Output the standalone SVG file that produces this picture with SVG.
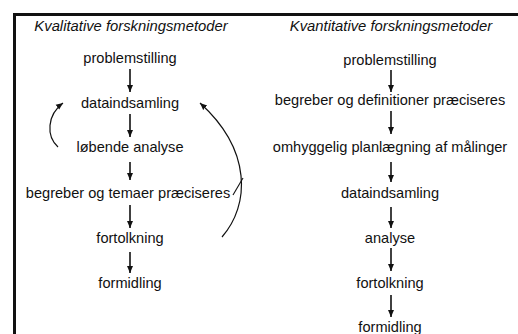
<svg xmlns="http://www.w3.org/2000/svg" width="518" height="334" viewBox="0 0 518 334">
  <style>
    .lbl { font-family: "Liberation Sans", Arial, sans-serif; font-size: 14.6px; fill: #111; text-anchor: middle; }
    .ttl { font-family: "Liberation Sans", Arial, sans-serif; font-size: 14.8px; font-style: italic; fill: #111; text-anchor: middle; }
    .flow { stroke: #111; stroke-width: 1.6; fill: none; marker-end: url(#head); }
    .loop { stroke: #111; stroke-width: 1.2; fill: none; marker-end: url(#head); }
    .frame { stroke: #111; stroke-width: 3; fill: none; }
  </style>
  <defs>
    <marker id="head" markerWidth="8" markerHeight="8" refX="7" refY="4" orient="auto" markerUnits="userSpaceOnUse">
      <path d="M0,1 L7,4 L0,7 Z" fill="#111"/>
    </marker>
  </defs>
  <rect width="518" height="334" fill="#fff"/>

  <!-- frame: top and left rule -->
  <path class="frame" d="M14.5,334 V14.5 H518"/>

  <!-- qualitative column -->
  <text class="ttl" x="131" y="31">Kvalitative forskningsmetoder</text>
  <g id="kval-problemstilling"><text class="lbl" x="130" y="63">problemstilling</text></g>
  <g id="kval-dataindsamling"><text class="lbl" x="130" y="108">dataindsamling</text></g>
  <g id="kval-loebende"><text class="lbl" x="130" y="152">løbende analyse</text></g>
  <g id="kval-begreber"><text class="lbl" x="128" y="198">begreber og temaer præciseres</text></g>
  <g id="kval-fortolkning"><text class="lbl" x="130" y="243">fortolkning</text></g>
  <g id="kval-formidling"><text class="lbl" x="130" y="288">formidling</text></g>

  <!-- quantitative column -->
  <text class="ttl" x="391" y="31">Kvantitative forskningsmetoder</text>
  <g id="kvan-problemstilling"><text class="lbl" x="390" y="65">problemstilling</text></g>
  <g id="kvan-begreber"><text class="lbl" x="390" y="105">begreber og definitioner præciseres</text></g>
  <g id="kvan-planlaegning"><text class="lbl" x="390" y="152">omhyggelig planlægning af målinger</text></g>
  <g id="kvan-dataindsamling"><text class="lbl" x="390" y="198">dataindsamling</text></g>
  <g id="kvan-analyse"><text class="lbl" x="390" y="243">analyse</text></g>
  <g id="kvan-fortolkning"><text class="lbl" x="390" y="288">fortolkning</text></g>
  <g id="kvan-formidling"><text class="lbl" x="390" y="332">formidling</text></g>

  <g id="connectors">
    <!-- qualitative flow -->
    <path class="flow" d="M130,69 V92"/>
    <path class="flow" d="M130,114 V137"/>
    <path class="flow" d="M130,162 V180"/>
    <path class="flow" d="M130,205 V228"/>
    <path class="flow" d="M130,252 V273"/>
    <!-- feedback loops -->
    <path class="loop" d="M58,147 C46,136 47,115 63,103"/>
    <path class="loop" d="M222,237 C250,205 252,150 200,103"/>
    <path stroke="#111" stroke-width="1.1" fill="none" d="M233,195 L243,178"/>
    <!-- quantitative flow -->
    <path class="flow" d="M391,70 V92"/>
    <path class="flow" d="M391,111 V134"/>
    <path class="flow" d="M391,162 V182"/>
    <path class="flow" d="M391,207 V228"/>
    <path class="flow" d="M391,248 V271"/>
    <path class="flow" d="M391,295 V317"/>
  </g>
</svg>
